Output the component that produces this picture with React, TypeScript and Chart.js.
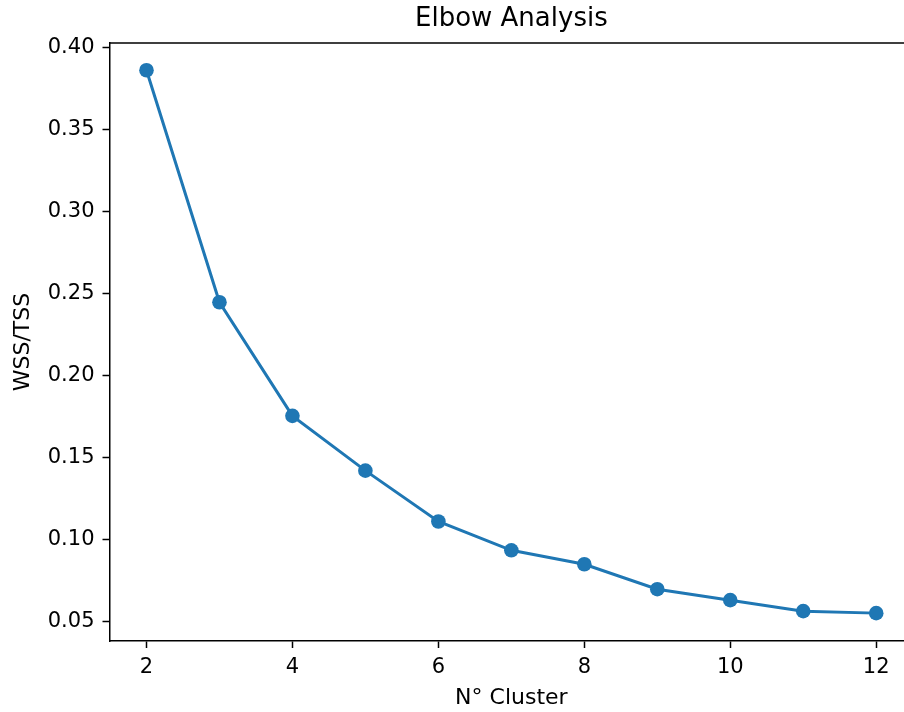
import React, { useEffect, useRef } from "react";
import { Chart, registerables } from "chart.js";

Chart.register(...registerables);

const clusters = [2, 3, 4, 5, 6, 7, 8, 9, 10, 11, 12];
const wssTss = [0.386, 0.2445, 0.1752, 0.1418, 0.1108, 0.0932, 0.0847, 0.0695, 0.0628, 0.0561, 0.0549];
const xTicks = [2, 4, 6, 8, 10, 12];
const yTicks = [0.05, 0.1, 0.15, 0.2, 0.25, 0.3, 0.35, 0.4];

const FONT = "'DejaVu Sans', sans-serif";

export default function App() {
  const ref = useRef<HTMLCanvasElement | null>(null);

  useEffect(() => {
    if (!ref.current) return;
    const framePlugin = {
      id: "frame",
      afterDraw(chart: any) {
        const { ctx, chartArea } = chart;
        ctx.save();
        ctx.strokeStyle = "#000";
        ctx.lineWidth = 1.5;
        ctx.beginPath();
        ctx.moveTo(chartArea.left, chartArea.top);
        ctx.lineTo(chartArea.right, chartArea.top);
        ctx.moveTo(chartArea.right, chartArea.top);
        ctx.lineTo(chartArea.right, chartArea.bottom);
        ctx.stroke();
        ctx.fillStyle = "#000";
        ctx.font = `26px ${FONT}`;
        ctx.textAlign = "center";
        ctx.textBaseline = "middle";
        ctx.fillText("Elbow Analysis", (chartArea.left + chartArea.right) / 2, 19);
        ctx.restore();
      },
    };
    const chart = new Chart(ref.current, {
      type: "line",
      data: {
        datasets: [
          {
            data: clusters.map((c, i) => ({ x: c, y: wssTss[i] })),
            borderColor: "#1f77b4",
            backgroundColor: "#1f77b4",
            borderWidth: 3,
            pointRadius: 7.3,
            pointBorderWidth: 0,
            pointHoverRadius: 7.3,
            tension: 0,
            fill: false,
          },
        ],
      },
      options: {
        animation: false,
        responsive: false,
        maintainAspectRatio: false,
        layout: { padding: { left: 0, top: 43, right: 6.5, bottom: 0 } },
        plugins: { legend: { display: false }, tooltip: { enabled: false }, title: { display: false } },
        scales: {
          x: {
            type: "linear",
            min: 1.5,
            max: 12.5,
            afterBuildTicks: (axis: any) => {
              axis.ticks = xTicks.map((v) => ({ value: v }));
            },
            afterFit: (axis: any) => {
              axis.height = 71;
            },
            grid: { drawOnChartArea: false, drawTicks: true, tickLength: 7, tickColor: "#000", tickWidth: 1.5 },
            border: { display: true, color: "#000", width: 1.5 },
            ticks: {
              color: "#000",
              font: { family: FONT, size: 21 },
              padding: 7,
              maxRotation: 0,
              callback: (v: any) => String(v),
            },
            title: {
              display: true,
              text: "N° Cluster",
              color: "#000",
              font: { family: FONT, size: 22 },
              padding: { top: 0, bottom: 1 },
            },
          },
          y: {
            type: "linear",
            min: 0.0379,
            max: 0.4026,
            afterBuildTicks: (axis: any) => {
              axis.ticks = yTicks.map((v) => ({ value: v }));
            },
            afterFit: (axis: any) => {
              axis.width = 110;
            },
            grid: { drawOnChartArea: false, drawTicks: true, tickLength: 7.5, tickColor: "#000", tickWidth: 1.5 },
            border: { display: true, color: "#000", width: 1.5 },
            ticks: {
              color: "#000",
              font: { family: FONT, size: 21 },
              padding: 8,
              callback: (v: any) => Number(v).toFixed(2),
            },
            title: {
              display: true,
              text: "WSS/TSS",
              color: "#000",
              font: { family: FONT, size: 22 },
              padding: { top: 10, bottom: 0 },
            },
          },
        },
      },
      plugins: [framePlugin],
    } as any);
    return () => chart.destroy();
  }, []);

  return (
    <div style={{ position: "fixed", left: 0, top: 0, width: 920, height: 712, background: "#fff" }}>
      <canvas ref={ref} width={920} height={712} style={{ width: 920, height: 712, display: "block" }} />
    </div>
  );
}
